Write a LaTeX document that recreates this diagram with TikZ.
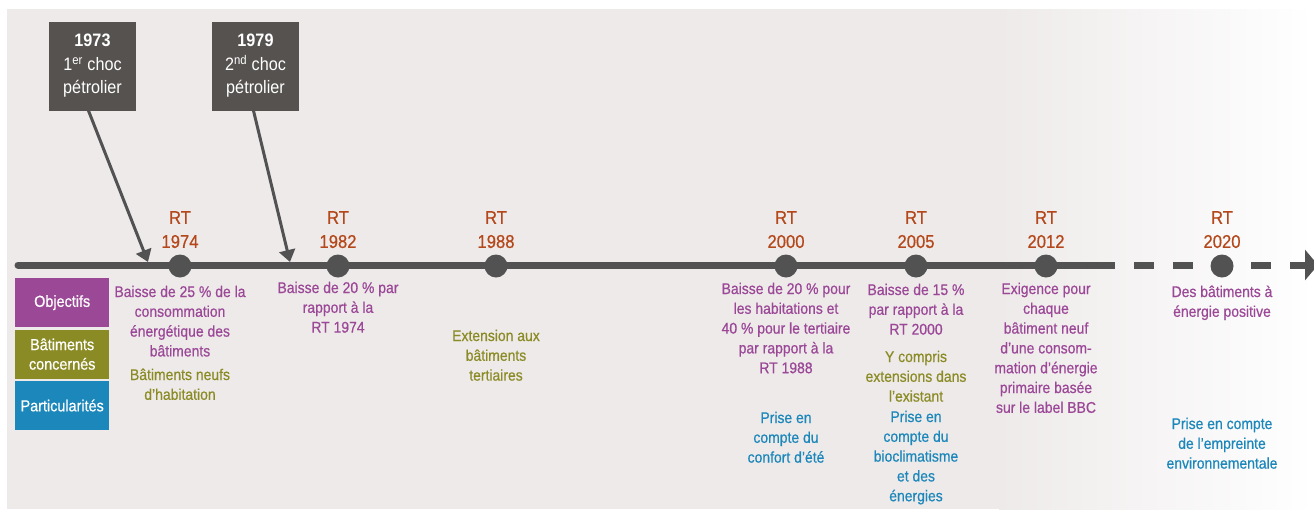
\documentclass[tikz,border=0pt]{standalone}
\usepackage{fontspec}
\setmainfont{Liberation Sans}[FakeStretch=0.9]
\newfontfamily\moyen{Liberation Sans}[FakeStretch=0.9,FakeBold=0.6]
\usetikzlibrary{arrows.meta,positioning}
\definecolor{fond}{HTML}{EEEAEA}
\definecolor{gris}{HTML}{555250}
\definecolor{ligne}{HTML}{525252}
\definecolor{rtcol}{HTML}{B4481B}
\definecolor{obj}{HTML}{9B4897}
\definecolor{bat}{HTML}{8B8B25}
\definecolor{part}{HTML}{1C87BA}
\tikzset{
  choc/.style={fill=gris,text=white,minimum width=87pt,minimum height=89pt,
    inner sep=0pt,align=center,font=\fontsize{18}{23.5}\selectfont},
  jalon/.style={circle,fill=ligne,minimum size=23pt,inner sep=0pt},
  rt/.style={text=rtcol,align=center,inner sep=0pt,font=\moyen\fontsize{18.5}{24}\selectfont},
  txt/.style={align=center,inner sep=0pt,anchor=base,font=\moyen\fontsize{15.5}{19.8}\selectfont},
  txtobj/.style={txt,text=obj},
  txtbat/.style={txt,text=bat},
  txtpart/.style={txt,text=part},
  legende/.style={text=white,minimum width=94pt,minimum height=49pt,inner sep=0pt,
    align=center,font=\moyen\fontsize{16}{19.5}\selectfont},
  fleche/.style={draw=ligne,line width=3pt,-{Triangle[width=16pt,length=12pt]}},
  axe/.style={draw=ligne,line width=7pt}
}
\begin{document}
\begin{tikzpicture}[x=1pt,y=-1pt]
\useasboundingbox (0,0) rectangle (1314,509);
% Fond
\fill[fond] (7,9) rectangle (1000,509);
\shade[left color=fond,right color=white] (999,9) rectangle (1314,509);
% Axe du temps
\coordinate (g) at (18,265);
\coordinate (d) at (1095,265);
\coordinate (f) at (1272,265);
\coordinate (q) at (1290,265);
\coordinate (h) at (1318,265);
\draw[axe,line cap=round] (g) -- (d);
\draw[axe,dash pattern=on 20pt off 19pt] (d) -- (f);
\draw[axe,-{Triangle[width=30pt,length=13pt]}] (q) -- (h);
% Jalons
\node[jalon] (j74) at (180,266) {};
\node[jalon] (j82) at (338,266) {};
\node[jalon] (j88) at (496,266) {};
\node[jalon] (j00) at (786,266) {};
\node[jalon] (j05) at (916,266) {};
\node[jalon] (j12) at (1046,266) {};
\node[jalon] (j20) at (1222,266) {};
\foreach \j/\a in {j74/1974,j82/1982,j88/1988,j00/2000,j05/2005,j12/2012,j20/2020}
  \node[rt,above=6pt of \j] (rt\j) {RT\\\a};
% Chocs petroliers
\node[choc] (c73) at (92.5,66) {\textbf{1973}\\1\textsuperscript{er} choc\\pétrolier};
\node[choc] (c79) at (255.5,66) {\textbf{1979}\\2\textsuperscript{nd} choc\\pétrolier};
\coordinate (p73) at (148,262);
\coordinate (p79) at (290,262);
\draw[fleche] ([xshift=-4pt]c73.south) -- (p73);
\draw[fleche] ([xshift=-2pt]c79.south) -- (p79);
% Legende
\node[legende,fill=obj,anchor=north west] (lobj) at (15,278) {Objectifs};
\node[legende,fill=bat,below=2pt of lobj] (lbat) {Bâtiments\\concernés};
\node[legende,fill=part,below=2pt of lbat] (lpart) {Particularités};
% Textes (ancre sur la ligne de base de la derniere ligne)
% RT 1974
\node[txtobj] (o74) at (180,356.4) {Baisse de 25~\% de la\\consommation\\énergétique des\\bâtiments};
\node[txtbat] (b74) at (180,399.8) {Bâtiments neufs\\d’habitation};
% RT 1982
\node[txtobj] (o82) at (338,332.6) {Baisse de 20~\% par\\rapport à la\\RT 1974};
% RT 1988
\node[txtbat] (b88) at (496,380.6) {Extension aux\\bâtiments\\tertiaires};
% RT 2000
\node[txtobj] (o00) at (786,373.2) {Baisse de 20~\% pour\\les habitations et\\40~\% pour le tertiaire\\par rapport à la\\RT 1988};
\node[txtpart] (p00) at (786,462.6) {Prise en\\compte du\\confort d’été};
% RT 2005
\node[txtobj] (o05) at (916,334.6) {Baisse de 15~\%\\par rapport à la\\RT 2000};
\node[txtbat] (b05) at (916,401.6) {Y compris\\extensions dans\\l’existant};
\node[txtpart] (p05) at (916,501.2) {Prise en\\compte du\\bioclimatisme\\et des\\énergies};
% RT 2012
\node[txtobj] (o12) at (1046,412.8) {Exigence pour\\chaque\\bâtiment neuf\\d’une consom-\\mation d’énergie\\primaire basée\\sur le label BBC};
% RT 2020
\node[txtobj] (o20) at (1222,316.8) {Des bâtiments à\\énergie positive};
\node[txtpart] (p20) at (1222,468.6) {Prise en compte\\de l’empreinte\\environnementale};
\end{tikzpicture}
\end{document}
